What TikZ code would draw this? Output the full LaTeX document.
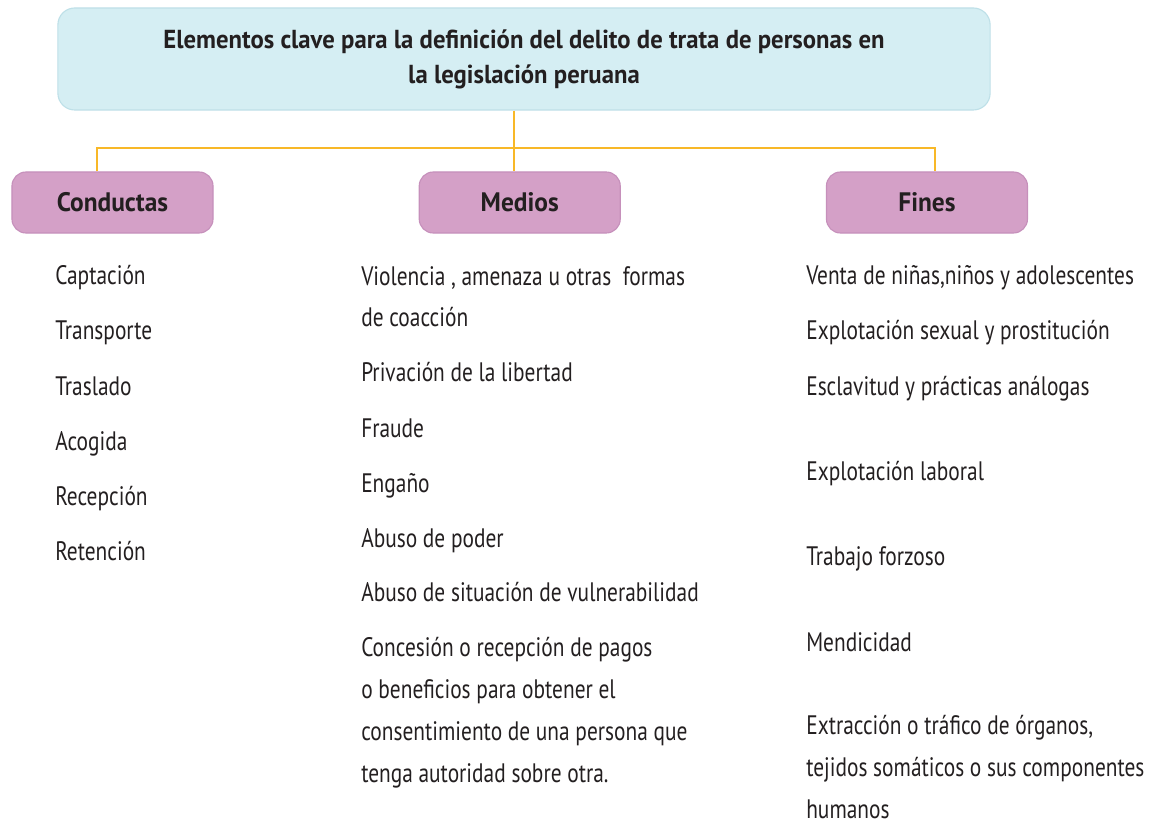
\documentclass[tikz,border=0pt]{standalone}
\usepackage{fontspec}
\setmainfont{PT Sans}[FakeStretch=0.8, BoldFeatures={FakeStretch=0.95}]
\usetikzlibrary{positioning}
\definecolor{titlefill}{RGB}{213,238,243}
\definecolor{titleline}{RGB}{190,224,232}
\definecolor{headfill}{RGB}{212,160,199}
\definecolor{headline}{RGB}{198,144,187}
\definecolor{linkline}{RGB}{248,184,40}
\definecolor{bodytext}{RGB}{35,31,32}

\begin{document}
\begin{tikzpicture}[
    x=0.025cm, y=-0.025cm,
    node distance=5.125cm,
    titlebox/.style={rectangle, rounded corners=12pt, draw=titleline, line width=0.8pt, fill=titlefill, minimum width=23.3cm, minimum height=2.55cm, align=center, font=\fontsize{18.5}{24.8}\selectfont\bfseries, text=bodytext},
    headbox/.style={rectangle, rounded corners=10pt, draw=headline, line width=0.8pt, fill=headfill, minimum width=5.025cm, minimum height=1.525cm, font=\fontsize{19}{22}\selectfont\bfseries, text=bodytext},
    item/.style={anchor=base west, inner sep=0pt, align=left, font=\fontsize{19}{29.8}\selectfont, text=bodytext},
    conn/.style={draw=linkline, line width=2pt}
]
\useasboundingbox (0,0) rectangle (1156,826);

% title and the three groups
\node[titlebox] (title) at (524,59) {Elementos clave para la definición del delito de trata de personas en\\la legislación peruana};
\node[headbox] (conductas) at (112.5,202.5) {Conductas};
\node[headbox, right=of conductas] (medios) {Medios};
\node[headbox, right=of medios] (fines) {Fines};

% connectors
\coordinate (jl) at (97,148);
\coordinate (jm) at (514,148);
\coordinate (jr) at (935,148);
\draw[conn] (conductas.north -| jl) -- (jl) -- (jr) -- (fines.north -| jr);
\draw[conn] (title.south -| jm) -- (medios.north -| jm);

% conductas
\node[item] (c1) at (55,285) {Captación};
\node[item] (c2) at (55,340) {Transporte};
\node[item] (c3) at (55,395) {Traslado};
\node[item] (c4) at (55,450) {Acogida};
\node[item] (c5) at (55,505) {Recepción};
\node[item] (c6) at (55,560) {Retención};

% medios (multi-line items sit on their last baseline)
\node[item] (m1) at (361,327) {Violencia , amenaza u otras\ \ formas\\de coacción};
\node[item] (m2) at (361,382) {Privación de la libertad};
\node[item] (m3) at (361,437) {Fraude};
\node[item] (m4) at (361,492) {Engaño};
\node[item] (m5) at (361,547) {Abuso de poder};
\node[item] (m6) at (361,601) {Abuso de situación de vulnerabilidad};
\node[item] (m7) at (361,782) {Concesión o recepción de pagos\\o beneficios para obtener el\\consentimiento de una persona que\\tenga autoridad sobre otra.};

% fines
\node[item] (f1) at (806,285) {Venta de niñas,niños y adolescentes};
\node[item] (f2) at (806,340) {Explotación sexual y prostitución};
\node[item] (f3) at (806,395) {Esclavitud y prácticas análogas};
\node[item] (f4) at (806,480) {Explotación laboral};
\node[item] (f5) at (806,565) {Trabajo forzoso};
\node[item] (f6) at (806,651) {Mendicidad};
\node[item] (f7) at (806,818) {Extracción o tráfico de órganos,\\tejidos somáticos o sus componentes\\humanos};
\end{tikzpicture}
\end{document}
